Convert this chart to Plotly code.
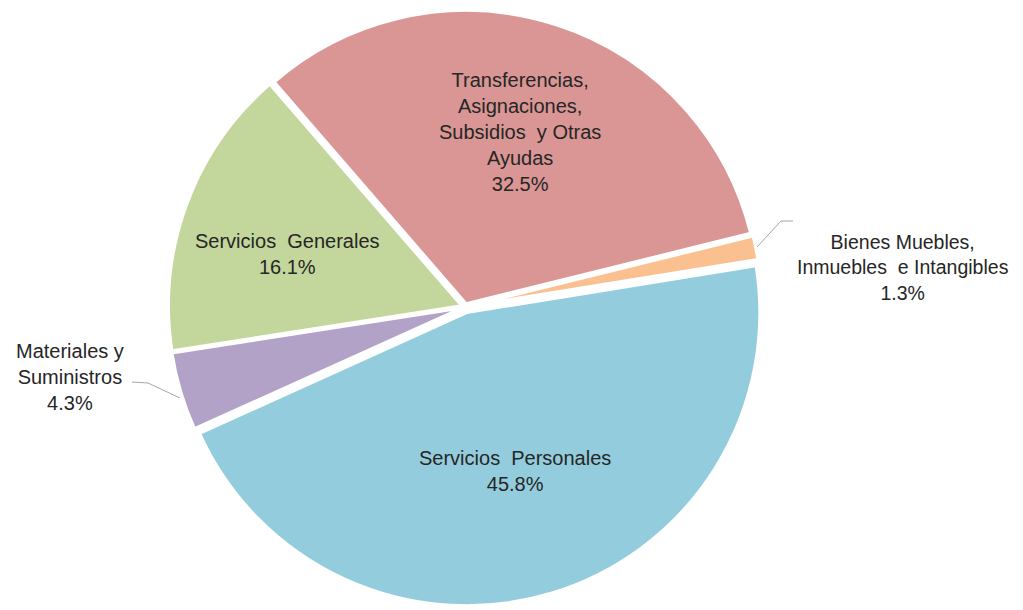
import plotly.graph_objects as go

categories = [
    "Servicios  Personales",
    "Materiales y<br>Suministros",
    "Servicios  Generales",
    "Transferencias,<br>Asignaciones,<br>Subsidios  y Otras<br>Ayudas",
    "Bienes Muebles,<br>Inmuebles  e Intangibles",
]
values = [45.8, 4.3, 16.1, 32.5, 1.3]
colors = ["#93CDDD", "#B3A2C7", "#C3D69B", "#D99694", "#FAC090"]
pulls = [0.02, 0.012, 0.012, 0.012, 0.012]

FONT = "Liberation Sans, Arial, sans-serif"
TXT = "#262626"
W, H = 1023, 610
OFF = 8  # page body margin in the rendered html

fig = go.Figure(go.Pie(
    labels=categories,
    values=values,
    sort=False,
    direction="clockwise",
    rotation=80.8,
    pull=pulls,
    marker=dict(colors=colors, line=dict(color="white", width=3)),
    textinfo="none",
    domain=dict(x=[0.15445, 0.73900], y=[0.01967, 1.0]),
    showlegend=False,
    hoverinfo="label+percent",
))


def px(x, y):
    """screen pixel -> paper fraction (accounting for the page margin)"""
    return (x - OFF) / W, 1 - (y - OFF) / H


# data label placement (screen pixel centres of each label block)
label_pos = [(515, 471), (70, 377), (287, 254), (520, 132), (903, 267)]
label_size = [20, 20, 20, 20, 19.5]
for lab, val, (x, y), fs in zip(categories, values, label_pos, label_size):
    ax, ay = px(x, y)
    fig.add_annotation(
        x=ax, y=ay, xref="paper", yref="paper",
        text=f"{lab}<br>{val:.1f}%",
        showarrow=False, align="center",
        font=dict(family=FONT, size=fs, color=TXT),
        xanchor="center", yanchor="middle",
    )

# leader lines for the two outside labels
leaders = [
    [(132, 382), (148, 383), (180, 398)],
    [(757, 247), (781, 221), (793, 221)],
]
for pts in leaders:
    path = "M " + " L ".join(f"{px(a, b)[0]},{px(a, b)[1]}" for a, b in pts)
    fig.add_shape(type="path", path=path, xref="paper", yref="paper",
                  line=dict(color="#A6A6A6", width=1))

fig.update_layout(
    width=W, height=H,
    margin=dict(l=0, r=0, t=0, b=0),
    paper_bgcolor="white",
    plot_bgcolor="white",
)
fig.write_html("out.html")
